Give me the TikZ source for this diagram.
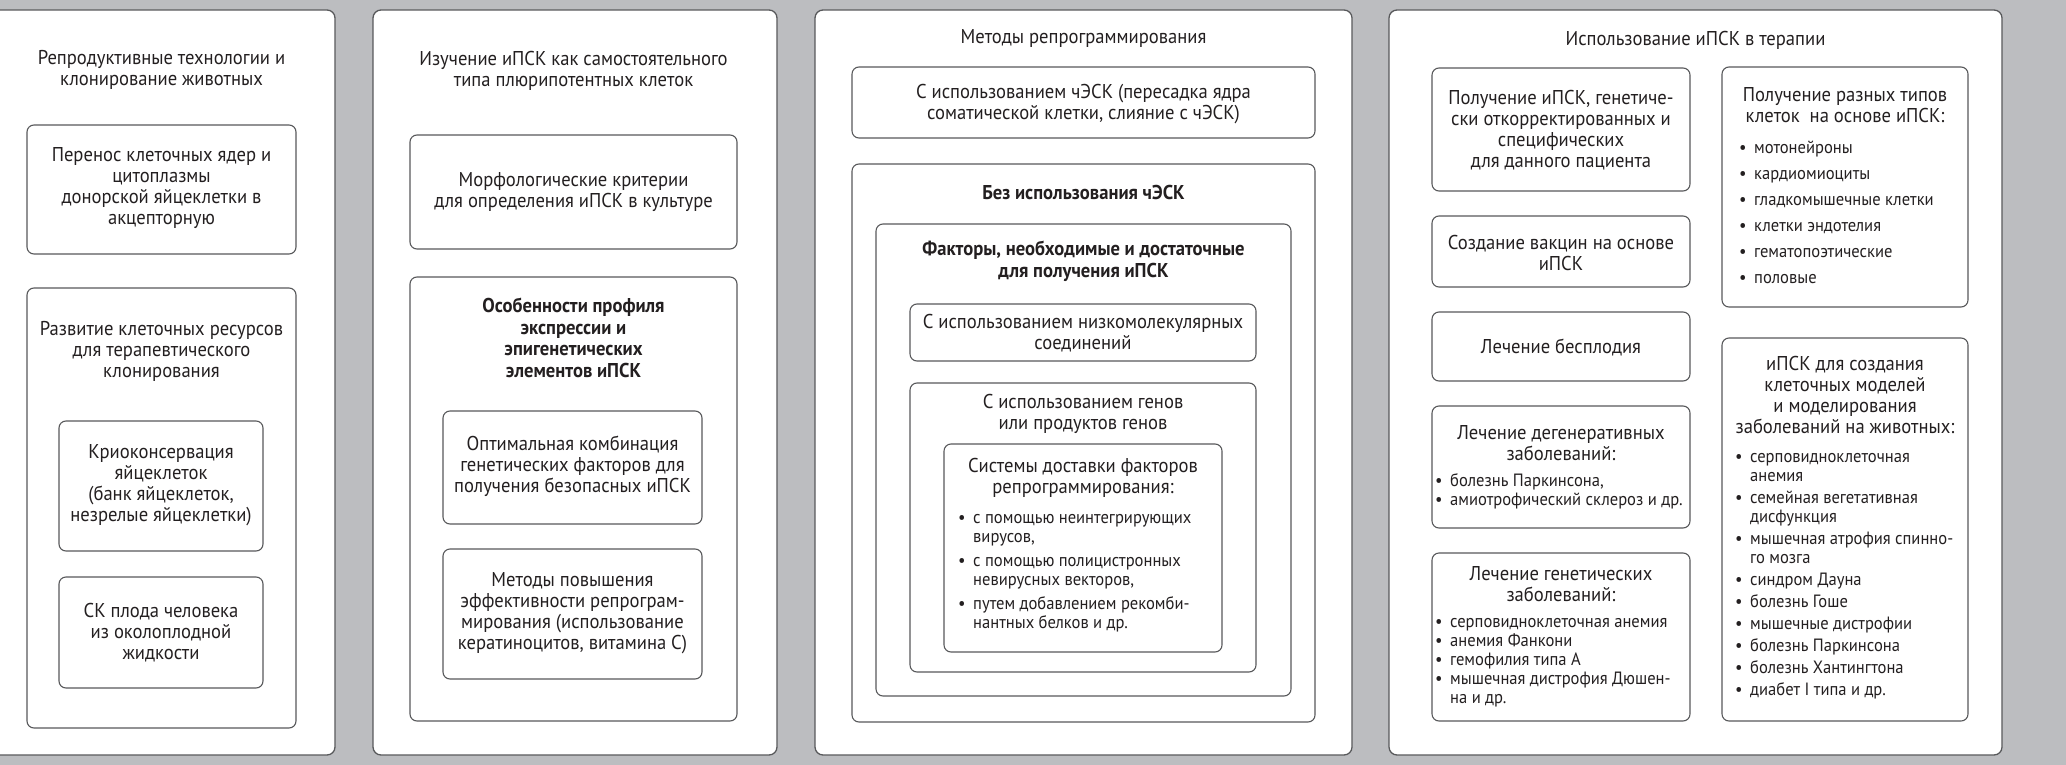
\documentclass[tikz,border=0pt]{standalone}
\usepackage{fontspec}
\setmainfont[FakeStretch=0.93]{PT Sans}
\usepackage{tikz}

\definecolor{frameGray}{RGB}{88,89,91}
\definecolor{paneBack}{RGB}{188,189,192}
\definecolor{inkDark}{RGB}{35,31,32}

\tikzset{
  panel/.style={draw=frameGray, fill=white, line width=1.3pt, rounded corners=8pt},
  box/.style={draw=frameGray, line width=1.1pt, rounded corners=7pt},
  txt/.style={align=center, text=inkDark, inner sep=0pt, font=\fontsize{20}{21}\selectfont},
  boldtxt/.style={txt, font=\fontsize{20}{21.5}\selectfont\bfseries},
  bullets/.style={align=left, anchor=west, text=inkDark, inner sep=0pt, font=\fontsize{17.8}{19}\selectfont},
}
\newcommand{\bitem}[1]{\makebox[15pt][l]{•}#1}
\newcommand{\bcont}[1]{\hspace*{15pt}#1}

\begin{document}
\begin{tikzpicture}[x=1pt, y=-1pt, line join=round]

  \useasboundingbox (0,0) rectangle (2066,765);
  \clip (0,0) rectangle (2066,765);
  \fill[paneBack] (0,0) rectangle (2066,765);

  % panel 1
  \draw[panel] (-20,10) rectangle (335,755);
  \draw[box] (27,125) rectangle (296,254);
  \draw[box] (27,288) rectangle (296,728);
  \draw[box] (59,421) rectangle (263,551);
  \draw[box] (59,577) rectangle (263,688);
  \node[txt] (reproTitle) at (161.5,70) {Репродуктивные технологии и\\клонирование животных};
  \node[txt] (nucTransfer) at (161.5,188.5) {Перенос клеточных ядер и\\цитоплазмы\\донорской яйцеклетки в\\акцепторную};
  \node[txt] (cellRes) at (161.5,351) {Развитие клеточных ресурсов\\для терапевтического\\клонирования};
  \node[txt] (cryo) at (161,485) {Криоконсервация\\яйцеклеток\\(банк яйцеклеток,\\незрелые яйцеклетки)};
  \node[txt] (fetalSC) at (161,632.5) {СК плода человека\\из околоплодной\\жидкости};

  % panel 2
  \draw[panel] (373,10) rectangle (777,755);
  \draw[box] (410,135) rectangle (737,249);
  \draw[box] (410,277) rectangle (737,721);
  \draw[box] (443,411) rectangle (702,524);
  \draw[box] (443,549) rectangle (702,679);
  \node[txt] (studyTitle) at (573.5,71) {Изучение иПСК как самостоятельного\\типа плюрипотентных клеток};
  \node[txt] (morph) at (573.5,192) {Морфологические критерии\\для определения иПСК в культуре};
  \node[boldtxt] (profile) at (573.5,338) {Особенности профиля\\экспрессии и\\эпигенетических\\элементов иПСК};
  \node[txt] (optComb) at (572.5,466.5) {Оптимальная комбинация\\генетических факторов для\\получения безопасных иПСК};
  \node[txt] (effMeth) at (572.5,613.5) {Методы повышения\\эффективности репрограм-\\мирования (использование\\кератиноцитов, витамина С)};

  % panel 3
  \draw[panel] (815,10) rectangle (1352,755);
  \draw[box] (852,67) rectangle (1315,138);
  \draw[box] (852,164) rectangle (1315,722);
  \draw[box] (876,224) rectangle (1291,696);
  \draw[box] (910,304) rectangle (1256,361);
  \draw[box] (910,383) rectangle (1256,672);
  \draw[box] (944,444) rectangle (1222,652);
  \node[txt] (reprogTitle) at (1083.5,39) {Методы репрограммирования};
  \node[txt] (withESC) at (1083.5,104) {С использованием чЭСК (пересадка ядра\\соматической клетки, слияние с чЭСК)};
  \node[boldtxt] (noESC) at (1083.5,192) {Без использования чЭСК};
  \node[boldtxt] (factors) at (1083.5,261.5) {Факторы, необходимые и достаточные\\для получения иПСК};
  \node[txt] (smallMol) at (1083,333) {С использованием низкомолекулярных\\соединений};
  \node[txt] (genes) at (1083,413.5) {С использованием генов\\или продуктов генов};
  \node[txt] (delivery) at (1083,477.5) {Системы доставки факторов\\репрограммирования:};
  \node[bullets] (deliveryList) at (958,573) {\bitem{с помощью неинтегрирующих}\\\bcont{вирусов,}\\[5pt]
    \bitem{с помощью полицистронных}\\\bcont{невирусных векторов,}\\[5pt]
    \bitem{путем добавлением рекомби-}\\\bcont{нантных белков и др.}};

  % panel 4
  \draw[panel] (1389,10) rectangle (2002,755);
  \draw[box] (1432,68) rectangle (1690,191);
  \draw[box] (1432,216) rectangle (1690,287);
  \draw[box] (1432,312) rectangle (1690,381);
  \draw[box] (1432,406) rectangle (1690,528);
  \draw[box] (1432,553) rectangle (1690,721);
  \draw[box] (1722,67) rectangle (1968,307);
  \draw[box] (1722,338) rectangle (1968,721);
  \node[txt] (therapyTitle) at (1695.5,40) {Использование иПСК в терапии};
  \node[txt] (patientIPS) at (1561,130) {Получение иПСК, генетиче-\\ски откорректированных и\\специфических\\для данного пациента};
  \node[txt] (vaccines) at (1561,253) {Создание вакцин на основе\\иПСК};
  \node[txt] (infertility) at (1561,348) {Лечение бесплодия};
  \node[txt] (degen) at (1561,443.5) {Лечение дегенеративных\\заболеваний:};
  \node[bullets] (degenList) at (1435,491.5) {\bitem{болезнь Паркинсона,}\\\bitem{амиотрофический склероз и др.}};
  \node[txt] (genetic) at (1561,584) {Лечение генетических\\заболеваний:};
  \node[bullets] (geneticList) at (1435,662.5) {\bitem{серповидноклеточная анемия}\\\bitem{анемия Фанкони}\\\bitem{гемофилия типа А}\\
    \bitem{мышечная дистрофия Дюшен-}\\\bcont{на и др.}};
  \node[txt] (cellTypes) at (1845,105) {Получение разных типов\\клеток\ \ на основе иПСК:};
  \node[bullets] (cellTypesList) at (1739,212) {\bitem{мотонейроны}\\[7pt]\bitem{кардиомиоциты}\\[7pt]\bitem{гладкомышечные клетки}\\[7pt]
    \bitem{клетки эндотелия}\\[7pt]\bitem{гематопоэтические}\\[7pt]\bitem{половые}};
  \node[txt] (models) at (1845,395) {иПСК для создания\\клеточных моделей\\и моделирования\\заболеваний на животных:};
  \node[bullets] (modelsList) at (1735,576.5) {\bitem{серповидноклеточная}\\\bcont{анемия}\\[3pt]
    \bitem{семейная вегетативная}\\\bcont{дисфункция}\\[3pt]\bitem{мышечная атрофия спинно-}\\\bcont{го мозга}\\[3pt]
    \bitem{синдром Дауна}\\[3pt]\bitem{болезнь Гоше}\\[3pt]\bitem{мышечные дистрофии}\\[3pt]
    \bitem{болезнь Паркинсона}\\[3pt]\bitem{болезнь Хантингтона}\\[3pt]\bitem{диабет I типа и др.}};

\end{tikzpicture}
\end{document}
